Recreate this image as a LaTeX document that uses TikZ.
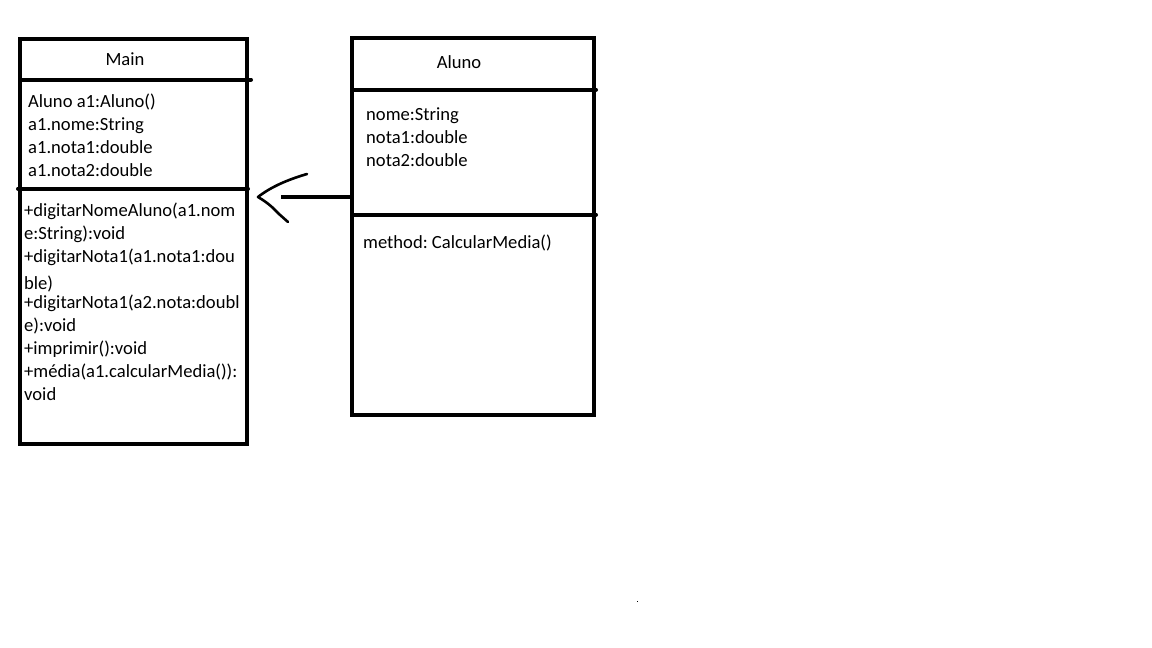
\documentclass[tikz,border=0pt]{standalone}
\usepackage{fontspec}
\setmainfont{Carlito}
\begin{document}
\begin{tikzpicture}[x=1pt,y=-1pt]
\tikzset{
  classbox/.style={draw, line width=4pt, inner sep=0pt, outer sep=0pt, anchor=north west},
  divider/.style={line width=4pt, line cap=round},
  txt/.style={anchor=base west, inner sep=0pt, font=\fontsize{18.6}{22}\selectfont},
  ttl/.style={anchor=base, inner sep=0pt, font=\fontsize{18.6}{22}\selectfont},
  arrline/.style={line width=4pt},
  arrhead/.style={line width=2.6pt, line cap=round, line join=round}
}
\fill[white] (0,0) rectangle (1152,648);
\useasboundingbox (0,0) rectangle (1152,648);

% Main class
\node[classbox, minimum width=227pt, minimum height=405pt] (main) at (19.5,39) {};
\draw[divider] (20,79.5) -- (251,79.5);
\draw[divider] (18,188.5) -- (248,188.5);
\node[ttl] (mainT) at (125,65) {Main};
\node[txt] (ma1) at (28,107) {Aluno a1:Aluno()};
\node[txt] (ma2) at (28,130) {a1.nome:String};
\node[txt] (ma3) at (28,153) {a1.nota1:double};
\node[txt] (ma4) at (28,176) {a1.nota2:double};
\node[txt] (mm1) at (24,216) {+digitarNomeAluno(a1.nom};
\node[txt] (mm2) at (24,239) {e:String):void};
\node[txt] (mm3) at (24,262) {+digitarNota1(a1.nota1:dou};
\node[txt] (mm4) at (24,289) {ble)};
\node[txt] (mm5) at (24,308) {+digitarNota1(a2.nota:doubl};
\node[txt] (mm6) at (24,331) {e):void};
\node[txt] (mm7) at (24,354) {+imprimir():void};
\node[txt] (mm8) at (24,377) {+média(a1.calcularMedia()):};
\node[txt] (mm9) at (24,400) {void};

% Aluno class
\node[classbox, minimum width=242pt, minimum height=377pt] (aluno) at (351.5,38) {};
\draw[divider] (352,89.5) -- (596,89.5);
\draw[divider] (352,214.5) -- (596,214.5);
\node[ttl] (alunoT) at (459,68) {Aluno};
\node[txt] (aa1) at (366,120) {nome:String};
\node[txt] (aa2) at (366,143) {nota1:double};
\node[txt] (aa3) at (366,166) {nota2:double};
\node[txt] (am1) at (363,248) {method:\ CalcularMedia()};

% Arrow from Aluno to Main
\coordinate (tip) at (258,197);
\coordinate (lineEnd) at (281,197);
\coordinate (upEnd) at (307,174);
\coordinate (lowEnd) at (288,222);
\draw[arrline] (aluno.west |- lineEnd) -- (lineEnd);
\draw[arrhead] (upEnd) .. controls (290,179) and (272,186) .. (tip)
  .. controls (270,204) and (275,210) .. (279,214) -- (lowEnd);

% stray dot
\fill[black] (636.5,600.5) rectangle (638,602);
\end{tikzpicture}
\end{document}
